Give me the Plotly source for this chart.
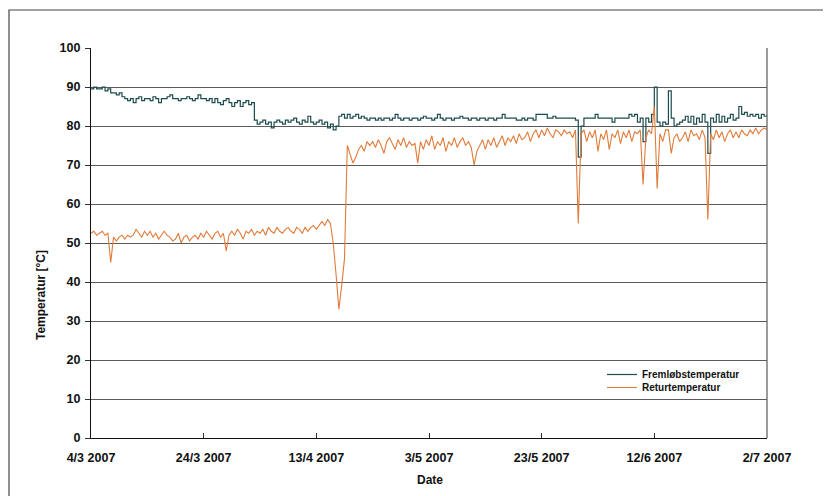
import pandas as pd
import plotly.graph_objects as go

# --- data (one value every 12 hours, starting 4 March 2007) ---
start_date = "2007-03-04"
step = "12h"

fremloeb = [
    89.5, 90, 89.5, 89.5, 90, 89, 89.5, 88.5, 88.5, 88,
    88.5, 87.5, 87, 86.5, 87, 86, 87, 87.5, 86.5, 87,
    87, 86.5, 87.5, 87, 86, 87, 87, 87.5, 88, 87,
    87, 86.5, 87, 87, 87.5, 87, 86.5, 87, 88, 87,
    87, 86.5, 87, 86, 87, 86, 85.5, 86.5, 87, 86,
    85, 86, 86.5, 85, 86, 86.5, 85.5, 86, 81.5, 80.5,
    81, 81.5, 80.5, 81, 79.5, 81, 81.5, 81, 80.5, 81.5,
    81, 81.5, 82, 81, 80.5, 81.5, 81, 82.5, 81, 80.5,
    81, 81.5, 80.5, 81, 79.5, 80.5, 79, 80, 82.5, 83,
    82, 83, 82, 82.5, 83, 82, 82.5, 82, 81.5, 82,
    82, 81.5, 82, 81.5, 82, 82, 81.5, 82, 83, 82,
    81.5, 82, 82, 81.5, 82, 82, 81.5, 82, 82.5, 82,
    82, 81.5, 82, 83, 82, 81.5, 82, 82, 81.5, 82,
    82, 82.5, 82, 82, 81.5, 82, 82, 81.5, 82, 82,
    81.5, 82, 82, 81.5, 82, 82, 83, 82, 82, 82,
    82, 81.5, 81.5, 82, 81.5, 82, 82, 81.5, 83, 83,
    83, 83, 82, 82, 82.5, 82, 82, 82, 82, 82,
    82, 82, 81.5, 72, 80, 82, 82, 82, 82, 83,
    82, 82, 82, 82, 82, 81, 82, 82, 82, 82,
    82, 83, 82.5, 83, 81, 82, 76, 82, 81, 83,
    90, 81, 80, 81, 80.5, 89, 82, 80, 80.5, 81,
    81.5, 82.5, 81, 82.5, 80.5, 82, 81, 83, 81, 73,
    82, 81, 83, 81, 82.5, 81, 82, 83, 81.5, 82,
    85, 83, 83.5, 82.5, 83, 82.5, 83, 82, 83, 82.5,
    83,
]

retur = [
    52.5, 53, 52, 52.5, 53, 52, 52.5, 45, 51.5, 50.5,
    51.5, 52, 51, 52, 51.5, 52, 53.5, 52.5, 51.5, 53,
    52, 53, 51.5, 52.5, 51, 52, 53, 52, 51.5, 50.5,
    51, 52.5, 50, 51.5, 52, 50.5, 51.5, 52, 51, 52.5,
    51.5, 53, 52, 51, 52.5, 53, 51.5, 52.5, 48, 52,
    53, 52, 53.5, 52.5, 51, 53, 52.5, 53.5, 52, 53,
    52.5, 53.5, 52, 54, 53, 52.5, 54, 53, 52.5, 53.5,
    54, 53, 52.5, 54, 53.5, 52.5, 54, 53, 54, 54.5,
    53.5, 54.5, 55.5, 54.5, 56, 55, 50, 42, 33, 39,
    46, 75, 73, 70.5, 72, 74, 75, 73.5, 76, 75,
    76, 74.5, 76.5, 75, 73, 76, 77, 75.5, 74, 76.5,
    75, 77, 74.5, 76, 75, 75.5, 70.5, 76, 74, 76.5,
    75, 77.5, 74, 76, 75, 77, 73.5, 76, 75, 77,
    74.5, 76, 77, 75, 76, 74.5, 70, 73.5, 75, 76.5,
    74, 76.5, 75, 77, 74.5, 76, 77.5, 75, 77, 76,
    77.5, 75.5, 78, 76.5, 77, 78.5, 76, 78, 79, 77,
    79, 77.5, 79.5, 78, 77, 79, 78.5, 77.5, 79, 78,
    78.5, 77, 79, 55, 78, 79, 76, 78.5, 77, 79,
    73.5, 78, 76.5, 79, 74, 78, 77, 79, 75.5, 78.5,
    77, 79, 76, 78.5, 78, 79, 65, 77, 79, 78,
    85, 64, 78, 76, 79, 79, 73, 77, 78, 76,
    77, 78.5, 76, 79, 77.5, 78, 76.5, 79, 77, 56,
    78, 76.5, 79, 77, 78.5, 76, 78, 79, 77, 78.5,
    77, 79, 78, 77.5, 79, 78, 79.5, 78, 79, 79.5,
    79,
]

tick_dates = ["2007-03-04", "2007-03-24", "2007-04-13", "2007-05-03",
              "2007-05-23", "2007-06-12", "2007-07-02"]
tick_labels = ["4/3 2007", "24/3 2007", "13/4 2007", "3/5 2007",
               "23/5 2007", "12/6 2007", "2/7 2007"]

series_names = ["Fremløbstemperatur", "Returtemperatur"]

# --- figure ---
t_f = pd.date_range(start_date, periods=len(fremloeb), freq=step)
t_r = pd.date_range(start_date, periods=len(retur), freq=step)

FONT = "Liberation Sans, Arial, sans-serif"
TEAL = "#1c4c4e"
ORANGE = "#e07b39"

# page body adds an 8px offset; work in screen pixels and convert
OFF = 8
W, H = 831 - OFF, 496 - OFF
PL, PR, PT, PB = 91, 767, 48, 438          # plot area in screen pixels
L, T = PL - OFF, PT - OFF
R, B = W - (PR - OFF), H - (PB - OFF)
pw, ph = PR - PL, PB - PT

def px_x(p):
    return (p - PL) / pw

def px_y(p):
    return (PB - p) / ph

fig = go.Figure()
fig.add_trace(go.Scatter(x=t_f, y=fremloeb, mode="lines", name=series_names[0],
                         legend="legend",
                         line=dict(color=TEAL, width=1.2, shape="hv")))
fig.add_trace(go.Scatter(x=t_r, y=retur, mode="lines", name=series_names[1],
                         legend="legend2",
                         line=dict(color=ORANGE, width=1.1)))

leg_common = dict(xanchor="left", yanchor="top",
                  font=dict(size=10, family=FONT, weight="bold", color="#111"),
                  bgcolor="rgba(0,0,0,0)", itemwidth=30)

fig.update_layout(
    width=W, height=H,
    margin=dict(l=L, r=R, t=T, b=B),
    paper_bgcolor="white", plot_bgcolor="white",
    font=dict(family=FONT, color="#111", size=12),
    showlegend=True,
    legend=dict(x=px_x(602), y=px_y(360), **leg_common),
    legend2=dict(x=px_x(602), y=px_y(373), **leg_common),
    xaxis=dict(
        type="date",
        range=[tick_dates[0], tick_dates[-1]],
        tickvals=tick_dates, ticktext=tick_labels,
        tickfont=dict(size=12.5, family=FONT, weight="bold", color="#111"),
        ticklabelstandoff=8,
        showgrid=False, zeroline=False,
        showline=True, linecolor="#111", linewidth=1.2,
        ticks="inside", ticklen=5, tickcolor="#333", tickwidth=1,
    ),
    yaxis=dict(
        range=[0, 100], dtick=10, tick0=0,
        tickfont=dict(size=12.5, family=FONT, weight="bold", color="#111"),
        ticklabelstandoff=2,
        showgrid=True, gridcolor="#5a5a5a", gridwidth=1.3,
        zeroline=False,
        showline=True, linecolor="#111", linewidth=1.2,
        ticks="outside", ticklen=5, tickcolor="#333", tickwidth=1,
    ),
    annotations=[
        dict(text="Temperatur [°C]", xref="paper", yref="paper",
             x=px_x(41), y=px_y(295), xanchor="center", yanchor="middle",
             showarrow=False, textangle=-90,
             font=dict(size=12, family=FONT, weight="bold", color="#111")),
        dict(text="Date", xref="paper", yref="paper",
             x=px_x(430), y=px_y(480), xanchor="center", yanchor="middle",
             showarrow=False,
             font=dict(size=12, family=FONT, weight="bold", color="#111")),
    ],
    shapes=[
        # right border of plot area
        dict(type="line", xref="paper", yref="paper", x0=1, x1=1, y0=0, y1=1,
             line=dict(color="#666", width=1.3)),
        # outer chart frame (top and left visible)
        dict(type="rect", xref="paper", yref="paper",
             x0=px_x(9), x1=px_x(860), y0=px_y(520), y1=px_y(10),
             line=dict(color="#444", width=1.2)),
    ],
)

fig.write_html("out.html")
